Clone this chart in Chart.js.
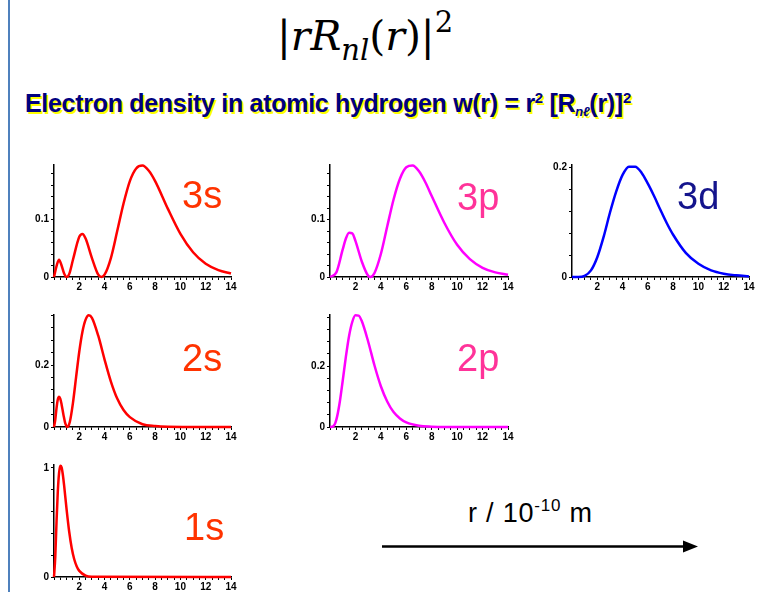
<!DOCTYPE html>
<html>
<head>
<meta charset="utf-8">
<title>Electron density in atomic hydrogen</title>
<script src="https://cdn.jsdelivr.net/npm/chart.js@4.4.0/dist/chart.umd.min.js"></script>
<style>
  html, body { margin: 0; padding: 0; background: #fff; overflow: hidden; }
  #page { position: relative; width: 760px; height: 592px; }
  #edge { position: absolute; left: 8px; top: 0; width: 2px; height: 592px; background: #4f81bd; }
  #formula { position: absolute; left: 277px; top: 10px; font-family: 'DejaVu Serif', serif; font-size: 41px; line-height: 52px; white-space: nowrap; color: #000; }
  #formula i { font-style: italic; }
  #formula sub { font-size: 29px; vertical-align: -10px; line-height: 0; }
  #formula sup { font-size: 29px; vertical-align: 18px; line-height: 0; }
  #subtitle { position: absolute; left: 25px; top: 88px; font-family: 'Liberation Sans', Arial, sans-serif; font-weight: bold; font-size: 25px; line-height: 30px; color: #000080; text-shadow: 2px 2px 0 #ffff00; white-space: nowrap; letter-spacing: -0.3px; }
  #subtitle sup { font-size: 15px; vertical-align: 9px; line-height: 0; }
  #subtitle sub { font-size: 13px; vertical-align: -4px; line-height: 0; font-style: italic; }
  canvas { position: absolute; }
  .tag { position: absolute; font-family: 'Liberation Sans', Arial, sans-serif; font-size: 38px; line-height: 38px; white-space: nowrap; }
  #axisname { position: absolute; left: 468px; top: 497px; font-family: 'Liberation Sans', Arial, sans-serif; font-size: 27px; line-height: 32px; white-space: nowrap; letter-spacing: 0.8px; }
  #axisname sup { font-size: 17px; vertical-align: 11px; line-height: 0; }
  #arrow { position: absolute; left: 0; top: 0; }
</style>
</head>
<body>
<div id="page">
  <div id="edge"></div>
  <div id="formula">|<i>rR</i><sub><i>nl</i></sub>(<i>r</i>)|<sup>2</sup></div>
  <div id="subtitle">Electron density in atomic hydrogen w(r) = r<sup>2</sup> [R<sub>nℓ</sub>(r)]<sup>2</sup></div>

  <canvas id="c3s" width="217" height="138" style="left:24px;top:157px"></canvas>
  <canvas id="c3p" width="218" height="138" style="left:300px;top:157px"></canvas>
  <canvas id="c3d" width="217" height="138" style="left:542px;top:157px"></canvas>
  <canvas id="c2s" width="217" height="138" style="left:24px;top:307px"></canvas>
  <canvas id="c2p" width="218" height="138" style="left:300px;top:307px"></canvas>
  <canvas id="c1s" width="217" height="138" style="left:24px;top:457px"></canvas>

  <div class="tag" style="left:182px;top:176px;color:#ff3300">3s</div>
  <div class="tag" style="left:457px;top:178px;color:#ff3399">3p</div>
  <div class="tag" style="left:677px;top:177px;color:#14148c">3d</div>
  <div class="tag" style="left:182px;top:339px;color:#ff3300">2s</div>
  <div class="tag" style="left:457px;top:339px;color:#ff3399">2p</div>
  <div class="tag" style="left:184px;top:508px;color:#ff3300">1s</div>

  <div id="axisname">r / 10<sup>-10</sup> m</div>
  <svg id="arrow" width="760" height="592">
    <line x1="382" y1="546.5" x2="686" y2="546.5" stroke="#000" stroke-width="2.5"/>
    <polygon points="698,546.5 683,540.5 683,552.5" fill="#000"/>
  </svg>
</div>

<script>
// radial distribution w(r), r in 10^-10 m
const r1s = [0, 0.1, 0.2, 0.3, 0.4, 0.5, 0.6, 0.7, 0.8, 1.0, 1.2, 1.4, 1.6, 1.8, 2.0, 2.5, 3, 14];
const w1s = [0, 0.185, 0.507, 0.782, 0.953, 1.020, 1.006, 0.938, 0.840, 0.616, 0.417, 0.266, 0.163, 0.097, 0.056, 0.013, 0.003, 0];

const r2s = [0, 0.1, 0.2, 0.3, 0.4, 0.5, 0.6, 0.75, 0.9, 1.06, 1.25, 1.5, 1.75, 2, 2.25, 2.5, 2.75, 3, 3.5, 4, 4.5, 5, 5.5, 6, 7, 8, 9, 14];
const w2s = [0, 0.023, 0.061, 0.089, 0.098, 0.091, 0.073, 0.039, 0.011, 0, 0.016, 0.078, 0.162, 0.244, 0.308, 0.347, 0.361, 0.353, 0.295, 0.218, 0.147, 0.092, 0.055, 0.032, 0.009, 0.003, 0.001, 0];

const r2p = [0, 0.25, 0.5, 0.75, 1, 1.25, 1.5, 1.75, 2, 2.25, 2.5, 3, 3.5, 4, 4.5, 5, 5.5, 6, 7, 8, 9, 14];
const w2p = [0, 0.002, 0.024, 0.077, 0.152, 0.231, 0.299, 0.345, 0.367, 0.366, 0.348, 0.281, 0.202, 0.134, 0.084, 0.049, 0.028, 0.015, 0.004, 0.001, 0, 0];

const r3s = [0, 0.2, 0.4, 0.6, 0.8, 1.0, 1.2, 1.5, 2, 2.25, 2.5, 3, 3.5, 3.75, 4, 4.5, 5, 5.5, 6, 6.5, 7, 7.5, 8, 9, 10, 11, 12, 13, 14];
const w3s = [0, 0.019, 0.030, 0.020, 0.006, 0, 0.005, 0.030, 0.070, 0.075, 0.067, 0.033, 0.004, 0, 0.004, 0.033, 0.080, 0.128, 0.167, 0.189, 0.194, 0.185, 0.167, 0.119, 0.075, 0.043, 0.023, 0.012, 0.006];

const r3p = [0, 0.5, 1, 1.25, 1.5, 1.75, 2, 2.5, 3, 3.17, 3.5, 4, 4.5, 5, 5.5, 6, 6.5, 7, 7.5, 8, 9, 10, 11, 12, 13, 14];
const w3p = [0, 0.008, 0.048, 0.067, 0.077, 0.076, 0.063, 0.027, 0.002, 0, 0.007, 0.040, 0.088, 0.135, 0.171, 0.191, 0.194, 0.184, 0.165, 0.141, 0.094, 0.056, 0.031, 0.016, 0.008, 0.004];

const r3d = [0, 0.5, 1, 1.5, 2, 2.5, 3, 3.5, 4, 4.5, 5, 5.5, 6, 6.5, 7, 7.5, 8, 9, 10, 11, 12, 13, 14];
const w3d = [0, 0, 0.002, 0.012, 0.036, 0.073, 0.117, 0.156, 0.186, 0.201, 0.201, 0.190, 0.170, 0.147, 0.122, 0.098, 0.077, 0.044, 0.024, 0.012, 0.006, 0.003, 0.001];

// labelled ticks
const xTickLabels = [2, 4, 6, 8, 10, 12, 14];
const yLabels3 = [0, 0.1];
const yLabels2 = [0, 0.2];
const yLabels1 = [0, 1];

const RED = '#ff0000';
const MAGENTA = '#ff00ff';
const BLUE = '#0000ff';

const tickFont = { family: 'Liberation Sans', size: 10, weight: 'bold' };

function hasLabel(list, v) {
  return list.some(l => Math.abs(l - v) < 1e-9);
}

function makePlot(id, r, w, color, yMax, yStep, yLabels) {
  const ctx = document.getElementById(id);
  return new Chart(ctx, {
    type: 'scatter',
    data: {
      datasets: [{
        data: r.map((x, i) => ({ x: x, y: w[i] })),
        showLine: true,
        borderColor: color,
        borderWidth: 2.5,
        pointRadius: 0,
        cubicInterpolationMode: 'monotone',
        clip: false
      }]
    },
    options: {
      responsive: false,
      animation: false,
      layout: { padding: { top: 6, right: 10, left: 0, bottom: 0 } },
      plugins: { legend: { display: false }, tooltip: { enabled: false } },
      scales: {
        x: {
          type: 'linear',
          min: 0,
          max: 14,
          afterFit: s => { s.height = 18; },
          border: { display: true, color: '#000', width: 1.5 },
          grid: { drawOnChartArea: false, drawTicks: true, tickLength: 3, color: '#000' },
          ticks: {
            stepSize: 0.5,
            autoSkip: false,
            maxRotation: 0,
            includeBounds: false,
            padding: 1,
            color: '#000',
            font: tickFont,
            callback: v => hasLabel(xTickLabels, v) ? String(Math.round(v)) : ''
          }
        },
        y: {
          min: 0,
          max: yMax,
          afterFit: s => { s.width = 30; },
          border: { display: true, color: '#000', width: 1.5 },
          grid: { drawOnChartArea: false, drawTicks: true, tickLength: 3, color: '#000' },
          ticks: {
            stepSize: yStep,
            autoSkip: false,
            includeBounds: false,
            padding: 2,
            color: '#000',
            font: tickFont,
            callback: v => hasLabel(yLabels, v) ? String(Math.round(v * 10) / 10) : ''
          }
        }
      }
    }
  });
}

window.addEventListener('load', function () {
  makePlot('c3s', r3s, w3s, RED, 0.195, 0.02, yLabels3);
  makePlot('c3p', r3p, w3p, MAGENTA, 0.195, 0.02, yLabels3);
  makePlot('c3d', r3d, w3d, BLUE, 0.204, 0.04, yLabels2);
  makePlot('c2s', r2s, w2s, RED, 0.362, 0.04, yLabels2);
  makePlot('c2p', r2p, w2p, MAGENTA, 0.368, 0.04, yLabels2);
  makePlot('c1s', r1s, w1s, RED, 1.027, 0.2, yLabels1);
});
</script>
</body>
</html>
